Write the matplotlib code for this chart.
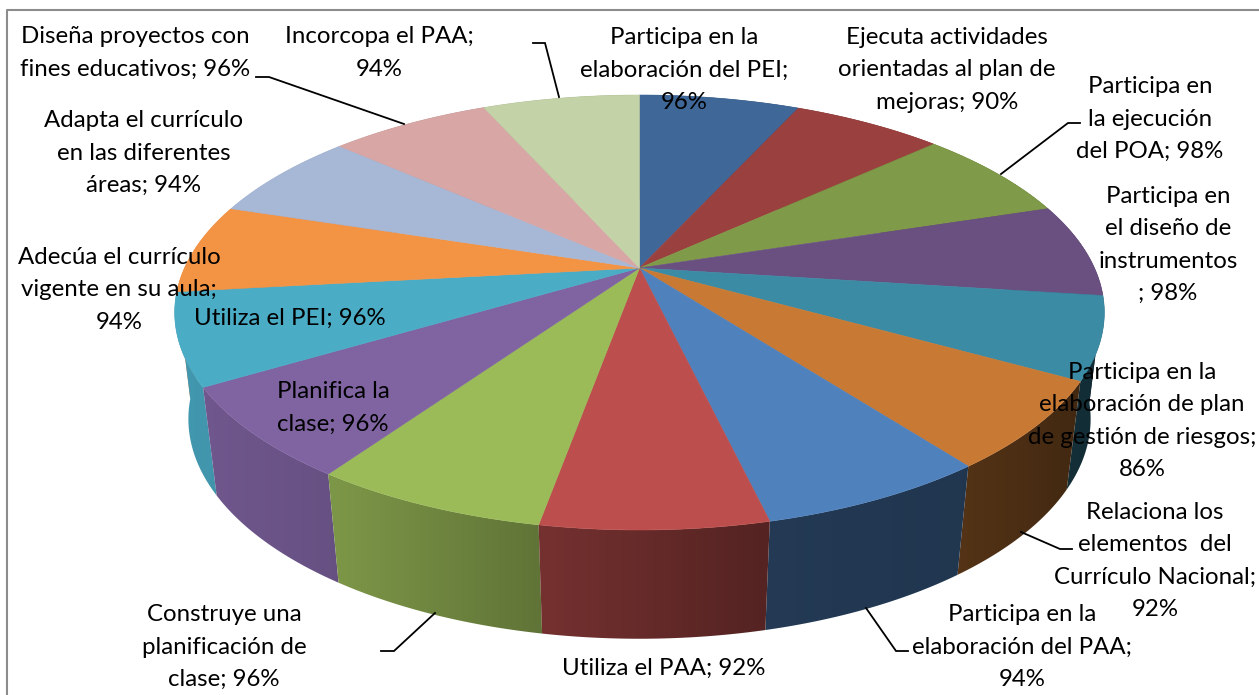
import matplotlib
matplotlib.use('Agg')
import matplotlib.pyplot as plt
from matplotlib.patches import Polygon
import numpy as np

plt.rcParams['font.family'] = ['Lato', 'DejaVu Sans']

# slices, clockwise from 12 o'clock
values = [96, 90, 98, 98, 86, 92, 94, 92, 96, 96, 96, 94, 94, 96, 94]
labels = [
    'Participa en la\nelaboración del PEI;\n{}%',
    'Ejecuta actividades\norientadas al plan de\nmejoras; {}%',
    'Participa en\nla ejecución\ndel POA; {}%',
    'Participa en\nel diseño de\ninstrumentos\n; {}%',
    'Participa en la\nelaboración de plan\nde gestión de riesgos;\n{}%',
    'Relaciona los\nelementos  del\nCurrículo Nacional;\n{}%',
    'Participa en la\nelaboración del PAA;\n{}%',
    'Utiliza el PAA; {}%',
    'Construye una\nplanificación de\nclase; {}%',
    'Planifica la\nclase; {}%',
    'Utiliza el PEI; {}%',
    'Adecúa el currículo\nvigente en su aula;\n{}%',
    'Adapta el currículo\nen las diferentes\náreas; {}%',
    'Diseña proyectos con\nfines educativos; {}%',
    'Incorcopa el PAA;\n{}%',
]
colors = ['#3f6797', '#9a403e', '#7f9a48', '#6a4f81', '#3b8ba4', '#c87a35', '#4f81bd', '#bc4f4d',
          '#9bbb59', '#8064a2', '#4bacc6', '#f39344', '#a7b7d6', '#d7a6a5', '#c3d2a7']
label_pos = [(684, 70), (947, 70), (1150, 119), (1168, 245), (1142, 421), (1155, 561), (1022, 647), (664, 668),
             (224, 647), (333, 408), (290, 318), (119, 290), (144, 153), (135, 53), (379, 53)]
# leader lines in pixels
leaders = [
    [(533, 43), (545, 43), (559, 97)],
    [(256, 77), (269, 77), (404, 124)],
    [(1080, 123), (1068, 123), (1001, 174)],
    [(1072, 549), (1060, 549), (1021, 532)],
    [(908, 651), (896, 651), (866, 608)],
    [(381, 651), (394, 651), (435, 613)],
]


# perspective of the disc, fitted on the picture
def rim(theta, cy, rx, ry, k):
    w = 1 + k * np.cos(theta)
    return 639.5 + rx * np.sin(theta) / w, cy - ry * np.cos(theta) / w


def top(theta):
    return rim(theta, 268, 455, 208.4, 0.2046)


def bottom(theta):
    return rim(theta, 375, 442, 211, 0.2)


def side_shade(x):
    # sides get darker from left to right
    return np.interp(x, [190, 340, 540, 760, 960, 1080], [0.88, 0.80, 0.62, 0.45, 0.42, 0.33])


fig = plt.figure(figsize=(12.59, 6.95), dpi=100)
ax = fig.add_axes([0, 0, 1, 1])

# chart frame, only left and top are in the picture
ax.plot([7, 7, 1259], [695, 9.5, 9.5], color='#8c8c8c', lw=1.5, zorder=1)

edges = np.concatenate([[0], np.cumsum(values)]) / np.sum(values) * 2 * np.pi
mids = (edges[:-1] + edges[1:]) / 2

# side wall first, back slices before front ones, the top face covers the rest
xs = np.arange(1259) + 0.5
for n, i in enumerate(np.argsort(-np.cos(mids))):
    th = np.linspace(edges[i], edges[i + 1], 40)
    xt, yt = top(th)
    xb, yb = bottom(th)
    pts = np.column_stack([np.r_[xt, xb[::-1]], np.r_[yt, yb[::-1]]])
    rgb = np.array(matplotlib.colors.to_rgb(colors[i]))
    strip = (rgb[None, :] * side_shade(xs)[:, None])[None, :, :]
    im = ax.imshow(strip, extent=[0, 1259, 695, 0], aspect='auto', zorder=2 + n * 0.01, interpolation='bilinear')
    outline = Polygon(pts, closed=True, transform=ax.transData, facecolor='none', edgecolor='none')
    ax.add_patch(outline)
    im.set_clip_path(outline)

for i, c in enumerate(colors):
    th = np.linspace(edges[i], edges[i + 1], 40)
    x, y = top(th)
    pts = np.column_stack([np.r_[639.5, x], np.r_[268, y]])
    ax.add_patch(Polygon(pts, closed=True, facecolor=c, edgecolor=c, lw=0.4, zorder=3))

for line in leaders:
    lx, ly = zip(*line)
    ax.plot(lx, ly, color='black', lw=1.3, zorder=4, solid_joinstyle='miter')

for lab, val, pos in zip(labels, values, label_pos):
    ax.text(pos[0], pos[1], lab.format(val), ha='center', va='center', multialignment='center', fontsize=17.3,
            linespacing=1.65, color='black', zorder=5)

ax.set_xlim(0, 1259)
ax.set_ylim(695, 0)
ax.axis('off')
fig.savefig('out.png', dpi=100)
